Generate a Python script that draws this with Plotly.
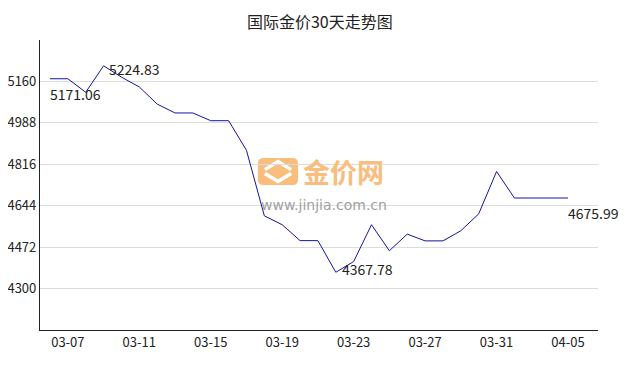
import plotly.graph_objects as go

dates = ["03-06", "03-07", "03-08", "03-09", "03-10", "03-11", "03-12", "03-13", "03-14", "03-15",
         "03-16", "03-17", "03-18", "03-19", "03-20", "03-21", "03-22", "03-23", "03-24", "03-25",
         "03-26", "03-27", "03-28", "03-29", "03-30", "03-31", "04-01", "04-02", "04-03", "04-05"]
prices = [5171.06, 5171.06, 5115, 5224.83, 5178, 5137, 5066, 5029, 5029, 4997,
          4997, 4874, 4602, 4565, 4499, 4499, 4367.78, 4412, 4565, 4457,
          4526, 4498, 4498, 4540, 4610, 4786, 4675.99, 4675.99, 4675.99, 4675.99]
tick_labels = ["03-07", "03-11", "03-15", "03-19", "03-23", "03-27", "03-31", "04-05"]
y_ticks = [4300, 4472, 4644, 4816, 4988, 5160]
marked_idx = [0, 3, 16, 29]
marked_txt = ["5171.06", "5224.83", "4367.78", "4675.99"]

FONT = "Noto Sans CJK SC, Noto Sans, sans-serif"

fig = go.Figure()
fig.add_trace(go.Scatter(x=dates, y=prices, mode="lines",
                         line=dict(color="#14149c", width=1), hoverinfo="x+y"))

label_style = [("top", -2, -3), ("middle", 3, -3), ("middle", 4, 3), ("top", -2, -3)]
for i, txt, (ya, xs, ys) in zip(marked_idx, marked_txt, label_style):
    fig.add_annotation(x=dates[i], y=prices[i], text=txt, showarrow=False,
                       xanchor="left", yanchor=ya, xshift=xs, yshift=ys,
                       font=dict(size=14, color="#222", family=FONT))

# watermark (paper coords: x=(px-40)/558, y=(330-py)/290)
icon = ("M 0.4005,0.593 L 0.4525,0.593 Q 0.4625,0.593 0.4625,0.573 L 0.4625,0.518 "
        "Q 0.4625,0.5 0.4525,0.5 L 0.4005,0.5 Q 0.3905,0.5 0.3905,0.518 L 0.3905,0.573 "
        "Q 0.3905,0.593 0.4005,0.593 Z")
fig.add_shape(type="path", path=icon, xref="paper", yref="paper",
              fillcolor="#f9bd7e", line=dict(width=0), layer="below")
fig.add_shape(type="path", xref="paper", yref="paper",
              path="M 0.403,0.553 L 0.4265,0.581 L 0.450,0.553 M 0.403,0.540 L 0.4265,0.512 L 0.450,0.540",
              line=dict(color="white", width=3.5), layer="below")
fig.add_annotation(x=0.4675, y=0.548, xref="paper", yref="paper", text="<b>金价网</b>",
                   showarrow=False, xanchor="left", yanchor="middle",
                   font=dict(size=27, color="#f9bd7e", family=FONT))
fig.add_annotation(x=0.3925, y=0.431, xref="paper", yref="paper", text="www.jinjia.com.cn",
                   showarrow=False, xanchor="left", yanchor="middle",
                   font=dict(size=14, color="#a0a0a0", family="DejaVu Sans, sans-serif"))

fig.update_layout(
    width=630, height=362,
    margin=dict(l=32, r=40, t=32, b=40, autoexpand=False),
    paper_bgcolor="white", plot_bgcolor="white",
    showlegend=False,
    title=dict(text="国际金价30天走势图", x=0.495, xanchor="center", y=0.961, yanchor="middle",
               font=dict(size=16, color="#222", family=FONT)),
    xaxis=dict(type="category", range=[-0.56, 30.68], tickmode="array",
               tickvals=tick_labels, ticktext=tick_labels, showgrid=False, automargin=False,
               showline=True, linecolor="#222", linewidth=1.2, ticks="",
               tickfont=dict(size=13, color="#222", family=FONT), zeroline=False),
    yaxis=dict(range=[4128, 5332], tickmode="array", tickvals=y_ticks, automargin=False,
               showgrid=True, gridcolor="#dcdcdc", gridwidth=1,
               showline=True, linecolor="#222", linewidth=1.2, ticks="",
               tickfont=dict(size=13, color="#222", family=FONT), zeroline=False),
)

fig.write_html("out.html")
